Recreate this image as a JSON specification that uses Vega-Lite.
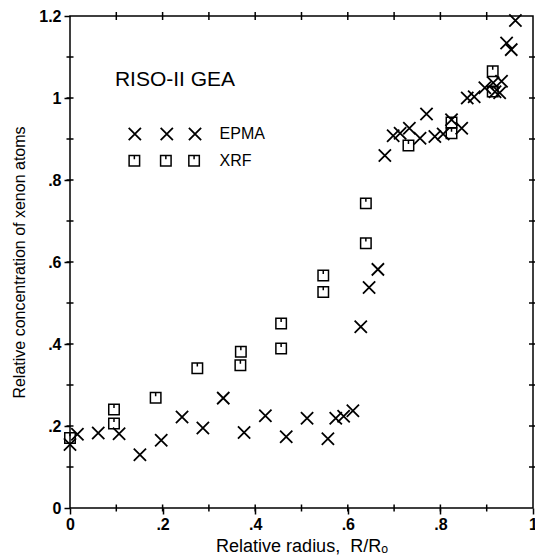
{
  "$schema": "https://vega.github.io/schema/vega-lite/v6.json",
  "width": 463,
  "height": 492,
  "autosize": "none",
  "padding": {"left": 70, "top": 16, "right": 2, "bottom": 50},
  "background": "white",
  "config": {
    "view": {"stroke": "black", "strokeWidth": 1.5},
    "font": "Liberation Sans",
    "axis": {"domainColor": "black", "tickColor": "black", "labelColor": "black", "titleColor": "black", "domainWidth": 1.5, "tickWidth": 1.5, "grid": false}
  },
  "datasets": {
    "epma": [
      {"r": 0.0, "c": 0.155}, {"r": 0.016, "c": 0.18}, {"r": 0.061, "c": 0.183}, {"r": 0.106, "c": 0.181},
      {"r": 0.151, "c": 0.13}, {"r": 0.197, "c": 0.165}, {"r": 0.242, "c": 0.222}, {"r": 0.287, "c": 0.195},
      {"r": 0.331, "c": 0.268}, {"r": 0.376, "c": 0.184}, {"r": 0.422, "c": 0.225}, {"r": 0.467, "c": 0.174},
      {"r": 0.512, "c": 0.219}, {"r": 0.557, "c": 0.169}, {"r": 0.574, "c": 0.219}, {"r": 0.591, "c": 0.224},
      {"r": 0.611, "c": 0.237}, {"r": 0.628, "c": 0.442}, {"r": 0.646, "c": 0.538}, {"r": 0.665, "c": 0.582},
      {"r": 0.68, "c": 0.86}, {"r": 0.698, "c": 0.908}, {"r": 0.713, "c": 0.914}, {"r": 0.733, "c": 0.926},
      {"r": 0.756, "c": 0.902}, {"r": 0.77, "c": 0.961}, {"r": 0.788, "c": 0.906}, {"r": 0.806, "c": 0.912},
      {"r": 0.824, "c": 0.947}, {"r": 0.846, "c": 0.926}, {"r": 0.858, "c": 1.0}, {"r": 0.873, "c": 1.003},
      {"r": 0.896, "c": 1.025}, {"r": 0.914, "c": 1.037}, {"r": 0.932, "c": 1.041}, {"r": 0.928, "c": 1.013},
      {"r": 0.918, "c": 1.015}, {"r": 0.943, "c": 1.134}, {"r": 0.953, "c": 1.118}, {"r": 0.962, "c": 1.189}
    ],
    "xrf": [
      {"r": 0.0, "c": 0.171}, {"r": 0.095, "c": 0.206}, {"r": 0.095, "c": 0.24}, {"r": 0.185, "c": 0.269},
      {"r": 0.275, "c": 0.341}, {"r": 0.368, "c": 0.348}, {"r": 0.369, "c": 0.381}, {"r": 0.456, "c": 0.389},
      {"r": 0.456, "c": 0.45}, {"r": 0.547, "c": 0.527}, {"r": 0.547, "c": 0.567}, {"r": 0.639, "c": 0.646},
      {"r": 0.639, "c": 0.743}, {"r": 0.731, "c": 0.884}, {"r": 0.824, "c": 0.914}, {"r": 0.824, "c": 0.94},
      {"r": 0.913, "c": 1.016}, {"r": 0.913, "c": 1.065}
    ],
    "legendEpma": [{"r": 0.14, "c": 0.912}, {"r": 0.209, "c": 0.912}, {"r": 0.27, "c": 0.912}],
    "legendXrf": [{"r": 0.139, "c": 0.847}, {"r": 0.207, "c": 0.847}, {"r": 0.268, "c": 0.847}],
    "labels": [
      {"r": 0.323, "c": 0.912, "t": "EPMA", "s": "legend"},
      {"r": 0.323, "c": 0.847, "t": "XRF", "s": "legend"},
      {"r": 0.097, "c": 1.044, "t": "RISO-II GEA", "s": "title"}
    ],
    "ticksX": [{"v": 0.1}, {"v": 0.2}, {"v": 0.3}, {"v": 0.4}, {"v": 0.5}, {"v": 0.6}, {"v": 0.7}, {"v": 0.8}, {"v": 0.9}],
    "ticksY": [{"v": 0.1}, {"v": 0.2}, {"v": 0.3}, {"v": 0.4}, {"v": 0.5}, {"v": 0.6}, {"v": 0.7}, {"v": 0.8}, {"v": 0.9}, {"v": 1.0}, {"v": 1.1}]
  },
  "layer": [
    {
      "data": {"name": "epma"},
      "mark": {"type": "point", "shape": "M-1,-1L1,1M-1,1L1,-1", "size": 150, "stroke": "black", "strokeWidth": 1.8, "filled": false, "opacity": 1},
      "encoding": {
        "x": {"field": "r", "type": "quantitative", "scale": {"domain": [0, 1], "nice": false, "zero": false},
          "axis": {"orient": "bottom", "values": [0, 0.2, 0.4, 0.6, 0.8, 1],
            "tickSize": 6, "domain": false,
            "labelPadding": 2, "labelFontSize": 16, "labelFontWeight": "bold", "labelFlush": false,
            "labelExpr": "datum.value > 0 && datum.value < 1 ? slice(format(datum.value, '.1f'), 1) : format(datum.value, '~g')",
            "title": "Relative radius,\u00a0\u00a0R/Rₒ", "titleFontSize": 18, "titleFontWeight": "normal", "titlePadding": 5}},
        "y": {"field": "c", "type": "quantitative", "scale": {"domain": [0, 1.2], "nice": false, "zero": false},
          "axis": {"orient": "left", "values": [0, 0.2, 0.4, 0.6, 0.8, 1, 1.2],
            "tickSize": 6, "domain": false,
            "labelPadding": 3, "labelFontSize": 16, "labelFontWeight": "bold", "labelFlush": false,
            "labelExpr": "datum.value > 0 && datum.value < 1 ? slice(format(datum.value, '.1f'), 1) : format(datum.value, '~g')",
            "title": "Relative concentration of xenon atoms", "titleFontSize": 16, "titleFontWeight": "normal", "titlePadding": 11}}
      }
    },
    {
      "data": {"name": "xrf"},
      "mark": {"type": "point", "shape": "M-1,-1H1V1H-1Z M0,-1V-0.3", "size": 110, "stroke": "black", "strokeWidth": 1.5, "filled": false, "opacity": 1},
      "encoding": {
        "x": {"field": "r", "type": "quantitative"},
        "y": {"field": "c", "type": "quantitative"}
      }
    },
    {
      "data": {"name": "legendEpma"},
      "mark": {"type": "point", "shape": "M-1,-1L1,1M-1,1L1,-1", "size": 150, "stroke": "black", "strokeWidth": 1.8, "filled": false, "opacity": 1},
      "encoding": {
        "x": {"field": "r", "type": "quantitative"},
        "y": {"field": "c", "type": "quantitative"}
      }
    },
    {
      "data": {"name": "legendXrf"},
      "mark": {"type": "point", "shape": "M-1,-1H1V1H-1Z M0,-1V-0.3", "size": 110, "stroke": "black", "strokeWidth": 1.5, "filled": false, "opacity": 1},
      "encoding": {
        "x": {"field": "r", "type": "quantitative"},
        "y": {"field": "c", "type": "quantitative"}
      }
    },
    {
      "data": {"name": "ticksX"},
      "mark": {"type": "tick", "orient": "vertical", "size": 8, "thickness": 1.5, "color": "black", "opacity": 1},
      "encoding": {
        "x": {"field": "v", "type": "quantitative"},
        "y": {"datum": 1.2, "type": "quantitative"}
      }
    },
    {
      "data": {"name": "ticksX"},
      "mark": {"type": "tick", "orient": "vertical", "size": 7, "thickness": 1.5, "color": "black", "opacity": 1},
      "encoding": {
        "x": {"field": "v", "type": "quantitative"},
        "y": {"datum": 0, "type": "quantitative"}
      }
    },
    {
      "data": {"name": "ticksY"},
      "mark": {"type": "tick", "orient": "horizontal", "size": 8, "thickness": 1.5, "color": "black", "opacity": 1},
      "encoding": {
        "y": {"field": "v", "type": "quantitative"},
        "x": {"datum": 1, "type": "quantitative"}
      }
    },
    {
      "data": {"name": "ticksY"},
      "mark": {"type": "tick", "orient": "horizontal", "size": 7, "thickness": 1.5, "color": "black", "opacity": 1},
      "encoding": {
        "y": {"field": "v", "type": "quantitative"},
        "x": {"datum": 0, "type": "quantitative"}
      }
    },
    {
      "data": {"name": "labels"},
      "mark": {"type": "text", "align": "left", "baseline": "middle", "color": "black"},
      "encoding": {
        "x": {"field": "r", "type": "quantitative"},
        "y": {"field": "c", "type": "quantitative"},
        "text": {"field": "t"},
        "size": {"field": "s", "type": "nominal", "scale": {"domain": ["legend", "title"], "range": [16, 21]}, "legend": null},
        "fontWeight": {"field": "s", "type": "nominal", "scale": {"domain": ["legend", "title"], "range": ["bold", "normal"]}, "legend": null}
      }
    }
  ]
}
